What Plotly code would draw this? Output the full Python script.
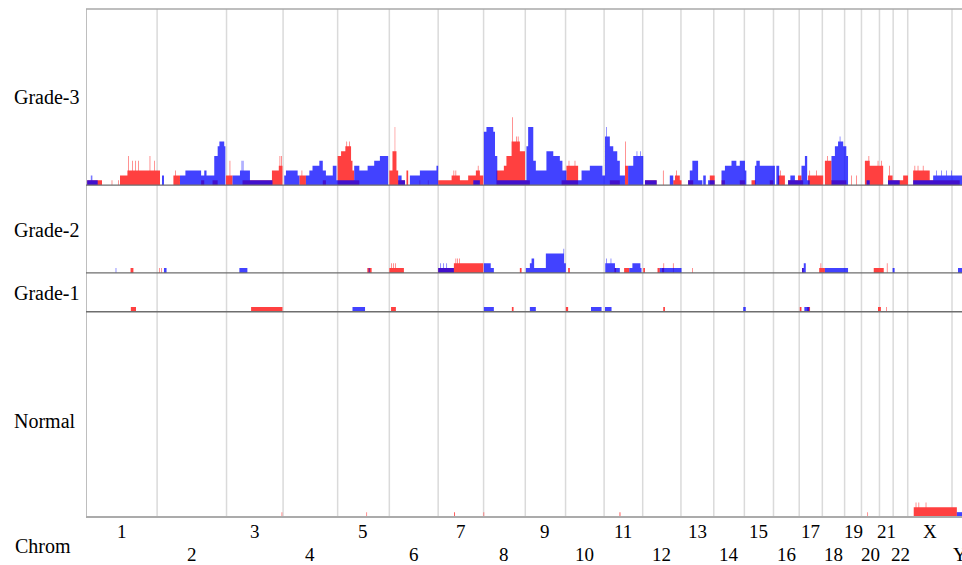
import numpy as np
import plotly.graph_objects as go

# ---------------- data ----------------
CHROMS = [str(i) for i in range(1, 23)] + ["X", "Y"]
CHROM_LEN = [249, 243, 198, 191, 181, 171, 159, 146, 141, 135, 135, 134,
             115, 107, 102, 90, 81, 78, 59, 63, 48, 51, 155, 59]   # Mb

PANELS = ["Grade-3", "Grade-2", "Grade-1", "Normal"]
PANEL_MAX = [36.3, 18.1, 8.0, 42.3]      # vertical extent of each panel, in samples

# segments: (start Mb, end Mb, number of samples) on the concatenated genome
G3_GAIN = [(4, 56, 1), (90, 92, 1), (113, 115, 1), (119, 145, 2), (145, 259, 3),
           (148, 150, 6), (162, 164, 5), (172, 174, 5), (183, 185, 5), (223, 225, 6), (238, 240, 5),
           (306, 329, 2), (312, 314, 3), (403, 414, 1), (443, 461, 1),
           (490, 513, 2), (503, 505, 5), (548, 653, 1), (651, 675, 3), (675, 688, 4),
           (678, 680, 6), (684, 686, 6), (747, 770, 2), (755, 757, 3), (829, 840, 1),
           (881, 893, 6), (893, 908, 7), (908, 928, 8), (912, 914, 9), (921, 923, 9),
           (928, 933, 5), (933, 939, 3), (939, 957, 1),
           (1062, 1073, 3), (1073, 1087, 7), (1081, 1082.5, 12), (1087, 1093, 3), (1093, 1117, 1),
           (1122, 1128, 3), (1168, 1170, 1), (1197, 1199, 1),
           (1233, 1338, 1), (1280, 1309, 2), (1287, 1289, 3), (1294, 1296, 3),
           (1338, 1391, 2), (1365, 1379, 3), (1372, 1374, 4),
           (1437, 1463, 3), (1463, 1472, 4), (1472, 1490, 6), (1490, 1519, 9), (1492, 1494, 14),
           (1507, 1509, 10), (1512, 1514, 10), (1519, 1537, 7), (1537, 1554, 1),
           (1665, 1682, 1), (1682, 1723, 4), (1690, 1692, 5), (1711, 1713, 5),
           (1834, 1869, 1), (1887, 1898, 4), (1888, 1890, 9),
           (1957, 1998, 1), (2020, 2022, 3), (2056, 2085, 1), (2062, 2079, 2), (2067, 2069, 3),
           (2108, 2126, 1), (2184, 2201, 2), (2225, 2237, 1), (2289, 2307, 1),
           (2330, 2345, 1), (2394, 2406, 1),
           (2423, 2447, 2), (2430, 2432, 3), (2458, 2511, 1), (2493, 2505, 2),
           (2528, 2581, 2), (2533, 2535, 3), (2556, 2558, 3),
           (2587, 2610, 5), (2595, 2597, 6), (2610, 2662, 1),
           (2679, 2681, 2), (2696, 2698, 2),
           (2727, 2744, 5), (2744, 2791, 4), (2740, 2742, 6), (2772, 2774, 5), (2784, 2786, 5),
           (2808, 2849, 1), (2808, 2824, 2), (2813, 2815, 4),
           (2849, 2861, 1), (2861, 2878, 2),
           (2896, 2954, 3), (2901, 2903, 4), (2912, 2914, 4), (2930, 2932, 4), (2954, 3048, 1),
           (3036, 3059, 1)]

G3_LOSS = [(4, 41, 1), (17, 19, 2), (20, 22, 2), (266, 273, 2),
           (329, 348, 2), (348, 403, 3), (403, 414, 2), (414, 422, 3), (422, 449, 2),
           (449, 461, 6), (461, 467, 8), (467, 484, 9), (484, 488, 8),
           (513, 539, 2), (539, 574, 3), (545, 547, 5), (549, 551, 5), (574, 653, 1),
           (694, 700, 2), (700, 741, 3), (741, 747, 2), (770, 782, 2), (782, 793, 3),
           (793, 817, 4), (817, 829, 5), (829, 840, 3), (840, 864, 2), (864, 877, 4),
           (877, 939, 1), (939, 957, 4), (957, 986, 3), (986, 1009, 4), (1009, 1029, 5), (1029, 1058, 6),
           (1093, 1105, 2), (1105, 1117, 1), (1134, 1169, 2), (1169, 1227, 3),
           (1227, 1233, 4), (1356, 1379, 1),
           (1393, 1402, 11), (1402, 1426, 12), (1426, 1432, 11), (1432, 1440, 6), (1440, 1542, 1),
           (1542, 1548, 8), (1548, 1566, 12), (1566, 1575, 5), (1575, 1612, 3), (1612, 1636, 7),
           (1636, 1659, 6), (1659, 1668, 5),
           (1668, 1682, 3), (1682, 1735, 1), (1735, 1764, 3), (1764, 1808, 4),
           (1808, 1817, 2), (1817, 1834, 10), (1821, 1823, 12), (1834, 1846, 8), (1846, 1860, 7),
           (1860, 1869, 5), (1869, 1887, 2), (1898, 1916, 4), (1916, 1951, 6), (1928, 1930, 7), (1940, 1942, 7),
           (1957, 1998, 1), (2044, 2056, 2),
           (2108, 2114, 1), (2114, 2123, 3), (2123, 2143, 5), (2143, 2158, 1), (2161, 2170, 2), (2178, 2201, 1),
           (2225, 2237, 3), (2237, 2260, 4), (2260, 2277, 5), (2277, 2289, 4), (2289, 2307, 5), (2307, 2312, 3),
           (2342, 2347, 4), (2347, 2359, 5), (2359, 2412, 4), (2417, 2427, 4),
           (2458, 2466, 1), (2466, 2482, 2), (2482, 2511, 1),
           (2505, 2517, 4), (2517, 2525, 6), (2525, 2534, 1),
           (2610, 2622, 6), (2622, 2633, 8), (2633, 2651, 9), (2639, 2641, 10), (2651, 2662, 8), (2662, 2668, 6),
           (2733, 2744, 1), (2808, 2849, 1),
           (2896, 2966, 1), (2966, 3048, 2), (2977, 2979, 3), (2994, 2996, 3), (3012, 3014, 3), (3030, 3032, 3),
           (3048, 3067, 2)]

G2_GAIN = [(156, 166, 1), (257, 259, 1), (263, 265, 1), (985, 1000, 1),
           (1062, 1113, 1), (1068, 1070, 2), (1075, 1077, 2), (1082, 1084, 2),
           (1233, 1288, 1), (1288, 1391, 2), (1294, 1296, 3), (1300, 1302, 3), (1306, 1308, 3),
           (1519, 1525, 1), (1688, 1694, 1), (1850, 1856, 1), (1884, 1902, 1), (1951, 1957, 1),
           (2001, 2009, 1), (2017, 2023, 1), (2022, 2024, 2), (2055, 2057, 2), (2122, 2124, 1),
           (2507, 2512, 1), (2567, 2587, 1), (2572, 2574, 2), (2758, 2793, 1), (2804, 2806, 2)]

G2_LOSS = [(104, 106, 1), (273, 282, 1), (537, 565, 1), (990, 993, 1),
           (1233, 1288, 1), (1240, 1242, 2), (1250, 1252, 2), (1262, 1264, 2),
           (1393, 1417, 2), (1417, 1428, 1),
           (1540, 1554, 1), (1554, 1560, 2), (1560, 1569, 3), (1569, 1610, 1), (1610, 1673, 4),
           (1672, 1674, 5), (1673, 1680, 2),
           (1818, 1852, 2), (1822, 1824, 3), (1837, 1839, 3), (1852, 1869, 1),
           (1902, 1913, 1), (1913, 1941, 2), (1941, 1945, 1), (2009, 2085, 1),
           (2507, 2513, 1), (2513, 2520, 2), (2587, 2668, 1), (2824, 2831, 1), (3053, 3067, 1)]

G1_GAIN = [(157, 175, 1), (578, 688, 1), (1068, 1085, 1), (1491, 1497, 1), (1680, 1688, 1),
           (2021, 2027, 1), (2499, 2505, 1), (2525, 2535, 1), (2773, 2783, 1), (2801, 2803, 1)]

G1_LOSS = [(933, 977, 1), (1393, 1428, 1), (1554, 1575, 1), (1768, 1805, 1), (1817, 1840, 1),
           (2301, 2310, 1), (2515, 2532, 1)]

N_GAIN = [(685, 687, 1), (982, 984, 1), (1289, 1292, 1), (1392, 1394, 1), (1868, 1871, 1),
          (2736, 2738, 1), (2898, 3049, 2), (2905, 2907, 3), (2915, 2917, 3), (2940, 2942, 3)]

N_LOSS = [(3049, 3067, 1)]

GAINS = [G3_GAIN, G2_GAIN, G1_GAIN, N_GAIN]
LOSSES = [G3_LOSS, G2_LOSS, G1_LOSS, N_LOSS]

X_MAX = 3067

# ---------------- helpers ----------------
def step(segs):
    pts = sorted(set([s for s, e, l in segs] + [e for s, e, l in segs]))
    xs, ys = [], []
    for a, b in zip(pts[:-1], pts[1:]):
        m = (a + b) / 2
        lev = max([l for s, e, l in segs if s <= m < e], default=0)
        xs.append(a)
        ys.append(lev)
    xs.append(pts[-1])
    ys.append(0)
    return xs, ys

total = sum(PANEL_MAX)
order = [3, 2, 1, 0]
domains = {}
acc = 0.0
for i in order:
    d0 = acc / total
    acc += PANEL_MAX[i]
    domains[i] = [round(min(d0, 1.0), 6), round(min(acc / total, 1.0), 6)]

axis_name = {3: "y", 2: "y2", 1: "y3", 0: "y4"}
layout_name = {3: "yaxis", 2: "yaxis2", 1: "yaxis3", 0: "yaxis4"}

fig = go.Figure()
for i in range(4):
    gx, gy = step(GAINS[i])
    fig.add_trace(go.Scatter(x=gx, y=gy, mode="lines", line=dict(width=0, shape="hv"),
                             fill="tozeroy", fillcolor="rgb(255,64,64)",
                             yaxis=axis_name[i], hoverinfo="skip", showlegend=False))
    lx, ly = step(LOSSES[i])
    fig.add_trace(go.Scatter(x=lx, y=ly, mode="lines", line=dict(width=0, shape="hv"),
                             fill="tozeroy", fillcolor="rgba(0,0,255,0.74)",
                             yaxis=axis_name[i], hoverinfo="skip", showlegend=False))

cum = np.cumsum([0] + CHROM_LEN)
centers = (cum[:-1] + cum[1:]) / 2

shapes = []
for b in cum[1:-1]:
    shapes.append(dict(type="line", xref="x", yref="paper", x0=float(b), x1=float(b), y0=0, y1=1,
                       line=dict(color="#dadada", width=1.5), layer="below"))
shapes.append(dict(type="line", xref="x", yref="paper", x0=0, x1=0, y0=0, y1=1,
                   line=dict(color="#a8a8a8", width=1.5)))
shapes.append(dict(type="line", xref="paper", yref="paper", x0=0, x1=1, y0=1, y1=1,
                   line=dict(color="#a8a8a8", width=1.5)))
for i, col, w in [(0, "#6e6e6e", 1.3), (1, "#6e6e6e", 1.3), (2, "#6e6e6e", 1.3), (3, "#ababab", 2)]:
    yb = domains[i][0]
    shapes.append(dict(type="line", xref="paper", yref="paper", x0=0, x1=1, y0=yb, y1=yb,
                       line=dict(color=col, width=w)))

PLOT_W = 962 - 86
PLOT_H = 565 - 9 - 48
FONT = "Liberation Serif"

annotations = []
label_px = {0: 97, 1: 230, 2: 293, 3: 421}
for i, name in enumerate(PANELS):
    annotations.append(dict(text=name, xref="paper", yref="paper",
                            x=(12 - 86) / PLOT_W, y=(517 - label_px[i]) / PLOT_H,
                            xanchor="left", yanchor="middle", showarrow=False,
                            font=dict(family=FONT, size=20, color="black")))
annotations.append(dict(text="Chrom", xref="paper", yref="paper",
                        x=(13 - 86) / PLOT_W, y=(517 - 546) / PLOT_H,
                        xanchor="left", yanchor="middle", showarrow=False,
                        font=dict(family=FONT, size=20, color="black")))
for k, (c, name) in enumerate(zip(centers, CHROMS)):
    ypx = 531 if k % 2 == 0 else 554
    annotations.append(dict(text=name, xref="x", yref="paper", x=float(c),
                            y=(517 - ypx) / PLOT_H, xanchor="center", yanchor="middle",
                            showarrow=False,
                            font=dict(family=FONT, size=19, color="black")))

layout = dict(
    width=962, height=565,
    margin=dict(l=86, r=0, t=9, b=48),
    paper_bgcolor="white", plot_bgcolor="white",
    showlegend=False,
    font=dict(family=FONT),
    xaxis=dict(range=[0, X_MAX], showgrid=False, zeroline=False, showticklabels=False,
               ticks="", showline=False, fixedrange=True),
    shapes=shapes, annotations=annotations,
)
for i in range(4):
    ax = dict(domain=domains[i], range=[0, PANEL_MAX[i]], showgrid=False, zeroline=False,
              showticklabels=False, ticks="", showline=False, fixedrange=True)
    if layout_name[i] != "yaxis":
        ax["anchor"] = "x"
    layout[layout_name[i]] = ax

fig.update_layout(**layout)
fig.write_html("out.html", config={"displayModeBar": False},
               post_script="document.body.style.margin='0';document.body.style.overflow='hidden';")
